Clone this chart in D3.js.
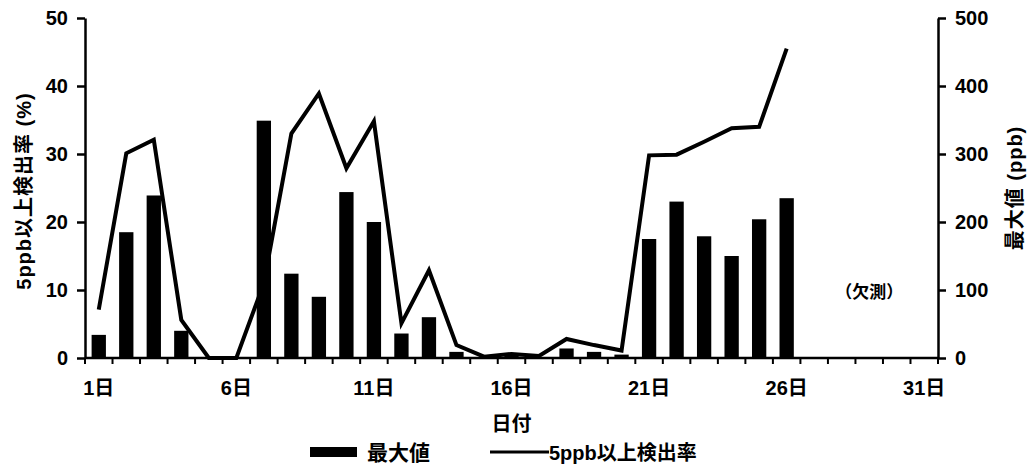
<!DOCTYPE html>
<html>
<head>
<meta charset="utf-8">
<script src="https://cdn.jsdelivr.net/npm/d3@7"></script>
<style>
  body { margin: 0; background: #fff; }
  svg text { font-family: "Liberation Sans", "Noto Sans CJK JP", sans-serif; font-weight: bold; fill: #000; }
</style>
</head>
<body>
<div id="chart"></div>
<script>
// Days of the month (categories)
const days = d3.range(1, 32);
const dayLabels = [1, 6, 11, 16, 21, 26, 31];

// 最大値 (ppb), right axis -- days 27-31 missing (欠測)
const maxPpb = [34, 185, 239, 40, 0, 0, 349, 124, 90, 244, 200, 36, 60, 9, 0, 3, 0, 14, 9, 5,
  175, 230, 179, 150, 204, 235, null, null, null, null, null];

// 5ppb以上検出率 (%), left axis
const rate = [7.1, 30.1, 32.1, 5.6, 0, 0, 11, 33, 38.9, 27.9, 34.8, 5.1, 12.9, 1.9, 0.2, 0.6, 0.3, 2.8, 1.9, 1.1,
  29.8, 29.9, 31.8, 33.8, 34, 45.5, null, null, null, null, null];

const leftTicks = [0, 10, 20, 30, 40, 50];
const rightTicks = [0, 100, 200, 300, 400, 500];

const width = 1033, height = 474;
const margin = { left: 85, right: 95, top: 18, bottom: 116 };
const plotW = width - margin.left - margin.right;
const plotH = height - margin.top - margin.bottom;

const svg = d3.select("#chart")
  .append("svg")
    .attr("width", width)
    .attr("height", height);

const g = svg.append("g")
  .attr("transform", "translate(" + margin.left + "," + margin.top + ")");

// Scales
let x = d3.scaleBand().domain(days).range([0, plotW]).padding(0);
let yLeft = d3.scaleLinear().domain([0, 50]).range([plotH, 0]);
let yRight = d3.scaleLinear().domain([0, 500]).range([plotH, 0]);

const barW = x.bandwidth() * 0.52;

// Bars (最大値)
g.selectAll(".bar")
  .data(days.filter((d, i) => maxPpb[i] !== null && maxPpb[i] > 0))
  .enter().append("rect")
    .attr("class", "bar")
    .attr("x", d => x(d) + (x.bandwidth() - barW) / 2)
    .attr("width", barW)
    .attr("y", d => yRight(maxPpb[d - 1]))
    .attr("height", d => plotH - yRight(maxPpb[d - 1]))
    .attr("fill", "#000");

// Line (検出率)
let valueline = d3.line()
  .defined(d => rate[d - 1] !== null)
  .x(d => x(d) + x.bandwidth() / 2)
  .y(d => yLeft(rate[d - 1]));

g.append("path")
  .datum(days)
  .attr("fill", "none")
  .attr("stroke", "#000")
  .attr("stroke-width", 4)
  .attr("stroke-linejoin", "miter")
  .attr("d", valueline);

// X axis: ticks at day boundaries
const xAxis = g.append("g")
  .attr("transform", "translate(0," + plotH + ")");
xAxis.append("line")
  .attr("x1", 0).attr("x2", plotW)
  .attr("stroke", "#000").attr("stroke-width", 2.5);
xAxis.selectAll(".xtick")
  .data(days.concat([32]))
  .enter().append("line")
    .attr("x1", d => d <= 31 ? x(d) : plotW)
    .attr("x2", d => d <= 31 ? x(d) : plotW)
    .attr("y1", 0).attr("y2", 6)
    .attr("stroke", "#000").attr("stroke-width", 2);

// X axis labels
g.append("g")
  .attr("transform", "translate(0," + plotH + ")")
  .call(d3.axisBottom(x).tickValues(dayLabels).tickSize(0).tickPadding(23).tickFormat(d => d + "日"))
  .call(a => a.select(".domain").remove())
  .selectAll("text")
    .style("font-size", "20px");

// Left axis
g.append("g")
  .call(d3.axisLeft(yLeft).tickValues(leftTicks).tickSize(8).tickSizeOuter(0).tickPadding(9))
  .call(a => a.selectAll("line, path").attr("stroke", "#000").attr("stroke-width", 2.5))
  .selectAll("text")
    .style("font-size", "20px");

// Right axis
g.append("g")
  .attr("transform", "translate(" + plotW + ",0)")
  .call(d3.axisRight(yRight).tickValues(rightTicks).tickSize(8).tickSizeOuter(0).tickPadding(9))
  .call(a => a.selectAll("line, path").attr("stroke", "#000").attr("stroke-width", 2.5))
  .selectAll("text")
    .style("font-size", "20px");

// Missing data note
g.append("text")
  .attr("x", x(29) + x.bandwidth() / 2)
  .attr("y", yRight(88))
  .style("text-anchor", "middle")
  .style("font-size", "17px")
  .text("（欠測）");

// X-Axis Label
svg.append("text")
  .attr("x", margin.left + plotW / 2)
  .attr("y", 431)
  .style("text-anchor", "middle")
  .style("font-size", "20px")
  .text("日付");

// Y-Axis Labels
svg.append("text")
  .attr("transform", "translate(31,191) rotate(-90)")
  .style("text-anchor", "middle")
  .style("font-size", "20px")
  .style("letter-spacing", "1px")
  .text("5ppb以上検出率 (%)");

svg.append("text")
  .attr("transform", "translate(1022,188) rotate(-90)")
  .style("text-anchor", "middle")
  .style("font-size", "20px")
  .style("letter-spacing", "1px")
  .text("最大値 (ppb)");

// Legend
const legend = svg.append("g");
legend.append("rect")
  .attr("x", 310).attr("y", 447)
  .attr("width", 47).attr("height", 10)
  .attr("fill", "#000");
legend.append("text")
  .attr("x", 367).attr("y", 460)
  .style("font-size", "21px")
  .text("最大値");
legend.append("line")
  .attr("x1", 490).attr("x2", 549)
  .attr("y1", 452).attr("y2", 452)
  .attr("stroke", "#000").attr("stroke-width", 3);
legend.append("text")
  .attr("x", 549).attr("y", 460)
  .style("font-size", "20px")
  .text("5ppb以上検出率");
</script>
</body>
</html>
